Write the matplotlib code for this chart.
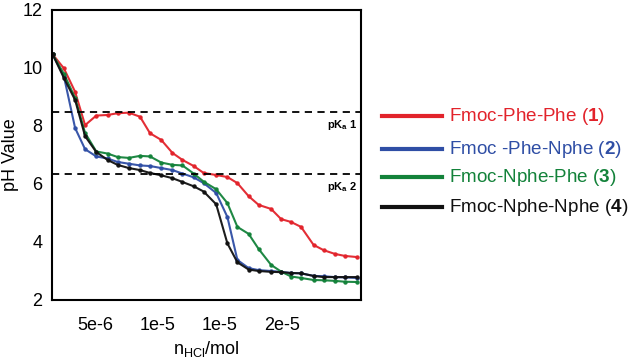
import matplotlib
matplotlib.use('Agg')
import matplotlib.pyplot as plt
from matplotlib.lines import Line2D

plt.rcParams['font.family'] = ['Liberation Sans', 'DejaVu Sans']
plt.rcParams['mathtext.fontset'] = 'custom'
plt.rcParams['mathtext.rm'] = 'Liberation Sans'
plt.rcParams['mathtext.bf'] = 'Liberation Sans:bold'
plt.rcParams['mathtext.it'] = 'Liberation Sans:italic'

# amount of HCl added (mol)
n_hcl = [1.6e-6, 2.5e-6, 3.4e-6, 4.2e-6, 5.1e-6, 6.0e-6, 6.8e-6, 7.7e-6, 8.6e-6, 9.4e-6,
         10.3e-6, 11.2e-6, 12.0e-6, 12.9e-6, 13.7e-6, 14.7e-6, 15.6e-6, 16.4e-6, 17.3e-6, 18.1e-6,
         19.1e-6, 19.9e-6, 20.7e-6, 21.5e-6, 22.5e-6, 23.3e-6, 24.2e-6, 25.0e-6, 26.0e-6]

ph_phe_phe = [10.47, 9.99, 9.18, 8.03, 8.36, 8.38, 8.44, 8.46, 8.32, 7.75,
              7.52, 7.07, 6.83, 6.62, 6.38, 6.31, 6.24, 6.03, 5.58, 5.28,
              5.14, 4.79, 4.69, 4.52, 3.90, 3.72, 3.59, 3.52, 3.48]
ph_phe_nphe = [10.47, 9.72, 7.93, 7.20, 6.95, 6.88, 6.76, 6.70, 6.64, 6.62,
               6.55, 6.48, 6.36, 6.23, 6.03, 5.69, 4.86, 3.38, 3.10, 3.03,
               3.00, 2.97, 2.93, 2.92, 2.83, 2.82, 2.79, 2.78, 2.76]
ph_nphe_phe = [10.47, 9.80, 8.97, 7.76, 7.12, 7.05, 6.93, 6.90, 6.97, 6.95,
               6.74, 6.66, 6.64, 6.36, 6.08, 5.82, 5.34, 4.52, 4.28, 3.76,
               3.21, 2.98, 2.81, 2.76, 2.69, 2.68, 2.66, 2.63, 2.62]
ph_nphe_nphe = [10.47, 9.66, 8.90, 7.65, 7.10, 6.83, 6.66, 6.55, 6.48, 6.38,
                6.30, 6.20, 6.07, 5.92, 5.74, 5.30, 3.95, 3.30, 3.05, 3.00,
                2.97, 2.96, 2.93, 2.92, 2.83, 2.79, 2.79, 2.79, 2.79]

pka_values = [8.5, 6.35]
pka_labels = [r'pK$_{\mathbf{a}}$ 1', r'pK$_{\mathbf{a}}$ 2']

xtick_vals = [5e-6, 1e-5, 1.5e-5, 2e-5]
xtick_labels = ['5e-6', '1e-5', '1e-5', '2e-5']

series = [
    (ph_phe_phe, '#e2232b', 'Fmoc-Phe-Phe', '1'),
    (ph_phe_nphe, '#2f4ea5', 'Fmoc -Phe-Nphe', '2'),
    (ph_nphe_phe, '#13823a', 'Fmoc-Nphe-Phe', '3'),
    (ph_nphe_nphe, '#111111', 'Fmoc-Nphe-Nphe', '4'),
]

fig = plt.figure(figsize=(6.33, 3.62), dpi=100)
ax = fig.add_axes([52/633, 1-300/362, 309/633, 290/362])

for ph, col, name, num in series:
    ax.plot(n_hcl, ph, color=col, lw=1.5, marker='o', ms=2.2,
            mfc=col, mec=col, alpha=0.95)

for v, lab in zip(pka_values, pka_labels):
    ax.axhline(v, color='black', ls=(0, (4, 3)), lw=1.3)
    ax.text(2.6e-5, v - 0.45, lab, ha='right', va='center', fontsize=8, fontweight='bold')

ax.set_xlim(1.55e-6, 2.63e-5)
ax.set_ylim(2, 12)
ax.set_yticks([2, 4, 6, 8, 10, 12])
ax.set_xticks(xtick_vals)
ax.set_xticklabels(xtick_labels)
ax.tick_params(axis='both', length=0, labelsize=13)
ax.tick_params(axis='x', pad=12)
ax.tick_params(axis='y', pad=7)
for s in ax.spines.values():
    s.set_linewidth(1.5)

ax.set_ylabel('pH Value', fontsize=13, labelpad=2)
ax.set_xlabel(r'n$_{\mathrm{HCl}}$/mol', fontsize=13, labelpad=4)

# legend drawn at fixed rows
rows_y = [116, 149, 177, 207]
for (ph, col, name, num), yp in zip(series, rows_y):
    yf = 1 - yp/362
    fig.add_artist(Line2D([382/633, 442/633], [yf, yf], color=col, lw=3))
    fig.text(449/633, yf, name + r' ($\mathbf{' + num + '}$)', color=col,
             fontsize=13.6, va='center', ha='left')

fig.savefig('out.png', dpi=100)
